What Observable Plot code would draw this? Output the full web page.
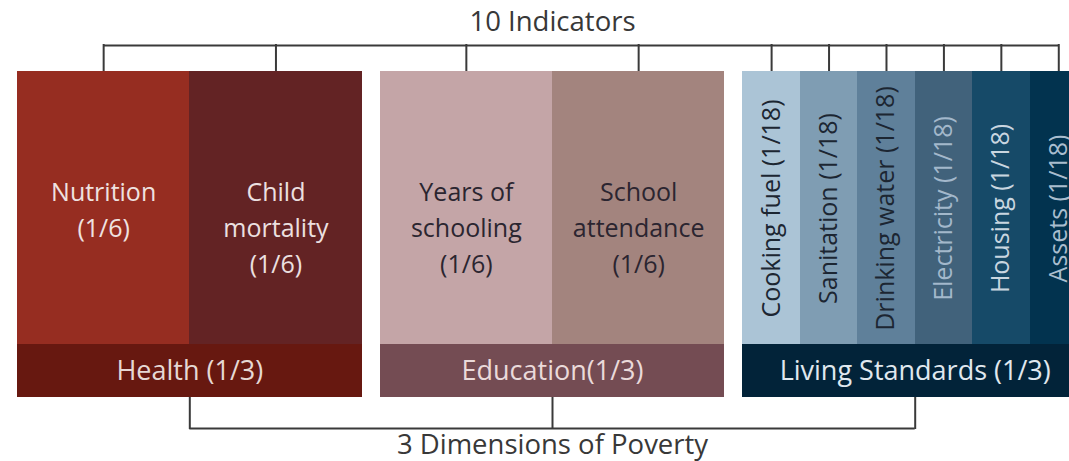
<!DOCTYPE html>
<html>
<head>
<meta charset="utf-8">
<script src="https://cdn.jsdelivr.net/npm/d3@7"></script>
<script src="https://cdn.jsdelivr.net/npm/@observablehq/plot@0.6"></script>
<style>
  html, body { margin: 0; padding: 0; background: #fff; overflow: hidden; }
  #chart svg { display: block; overflow: hidden; }
</style>
</head>
<body>
<div id="chart"></div>
<script>
// ---- Data ----
const dimensions = ["Health (1/3)", "Education(1/3)", "Living Standards (1/3)"];
const dimensionWeights = [1/3, 1/3, 1/3];
const indicators = [
  "Nutrition\n(1/6)", "Child\nmortality\n(1/6)",
  "Years of\nschooling\n(1/6)", "School\nattendance\n(1/6)",
  "Cooking fuel (1/18)", "Sanitation (1/18)", "Drinking water (1/18)",
  "Electricity (1/18)", "Housing (1/18)", "Assets (1/18)"
];
const indicatorDimension = [0, 0, 1, 1, 2, 2, 2, 2, 2, 2];
const indicatorWeights = [1/6, 1/6, 1/6, 1/6, 1/18, 1/18, 1/18, 1/18, 1/18, 1/18];
const topLabel = `${indicators.length} Indicators`;
const bottomLabel = `${dimensions.length} Dimensions of Poverty`;

// ---- Styles ----
const indicatorFill = ["#962d21", "#632324", "#c4a5a7", "#a3847e",
  "#abc4d6", "#7f9db3", "#5f809a", "#41627b", "#164a68", "#02334f"];
const indicatorInk = ["#efe2e0", "#ece0e0", "#2b2530", "#2b2530",
  "#1c2632", "#1c2632", "#1c2632", "#a3b8cb", "#c9d6e0", "#a9bdce"];
const dimensionFill = ["#671810", "#744c53", "#022339"];
const dimensionInk = ["#e6d8d4", "#eadada", "#e0e8ef"];
const lineColor = "#3a3a3a";

// ---- Layout (positions in the y scale, pixels from top) ----
const GAP = 0.0175;
const L = { topRule: 45, indTop: 71, indBottom: 345, bandTop: 344, bandBottom: 397, bottomRule: 428, topText: 22, bottomText: 445, indText: 175 };

// Build tables from the data
let cursor = 0;
const dims = dimensions.map((name, i) => {
  const x1 = cursor, x2 = cursor + dimensionWeights[i];
  cursor = x2 + GAP;
  return { name, i, x1, x2, xc: (x1 + x2) / 2, fill: dimensionFill[i], ink: dimensionInk[i] };
});
const inner = dims.map(d => d.x1);
const inds = indicators.map((name, i) => {
  const d = indicatorDimension[i];
  const x1 = inner[d], x2 = x1 + indicatorWeights[i];
  inner[d] = x2;
  return { name, i, x1, x2, xc: (x1 + x2) / 2, fill: indicatorFill[i], ink: indicatorInk[i], vertical: indicatorWeights[i] < 1/6 };
});
const total = cursor - GAP;
const mid = dims[1].xc;

const font = "'Open Sans', 'DejaVu Sans', sans-serif";

const chart = Plot.plot({
  width: 1069,
  height: 461,
  margin: 0,
  style: { fontFamily: font, background: "#fff" },
  x: { domain: [0, total], range: [17, 1087], axis: null },
  y: { domain: [0, 461], range: [0, 461], axis: null },
  color: { type: "identity" },
  marks: [
    // indicator blocks
    Plot.rect(inds, { x1: "x1", x2: "x2", y1: () => L.indTop, y2: () => L.indBottom, fill: "fill", shapeRendering: "crispEdges" }),
    // dimension bands
    Plot.rect(dims, { x1: "x1", x2: "x2", y1: () => L.bandTop, y2: () => L.bandBottom, fill: "fill", shapeRendering: "crispEdges" }),
    // top bracket
    Plot.ruleY([L.topRule], { x1: inds[0].xc, x2: inds[inds.length - 1].xc, stroke: lineColor, strokeWidth: 2 }),
    Plot.ruleX(inds, { x: "xc", y1: () => L.topRule - 1, y2: () => L.indTop, stroke: lineColor, strokeWidth: 2 }),
    // bottom bracket
    Plot.ruleY([L.bottomRule], { x1: dims[0].xc, x2: dims[dims.length - 1].xc, stroke: lineColor, strokeWidth: 2 }),
    Plot.ruleX(dims, { x: "xc", y1: () => L.bandBottom, y2: () => L.bottomRule + 1, stroke: lineColor, strokeWidth: 2 }),
    // horizontal indicator labels
    Plot.text(inds.filter(d => !d.vertical), { x: "xc", y: () => L.indText, text: "name", fill: "ink", lineAnchor: "top", lineHeight: 1.44, fontSize: 25 }),
    // vertical indicator labels
    Plot.text(inds.filter(d => d.vertical), { x: "xc", y: () => (L.indTop + L.indBottom) / 2, text: "name", fill: "ink", rotate: -90, fontSize: 25 }),
    // dimension labels
    Plot.text(dims, { x: "xc", y: () => (L.bandTop + L.bandBottom) / 2, text: "name", fill: "ink", fontSize: 27 }),
    // titles
    Plot.text([topLabel], { x: () => mid, y: () => L.topText, text: d => d, fill: "#383838", fontSize: 27.5 }),
    Plot.text([bottomLabel], { x: () => mid, y: () => L.bottomText, text: d => d, fill: "#383838", fontSize: 27.5 })
  ]
});
document.getElementById("chart").append(chart);
</script>
</body>
</html>
